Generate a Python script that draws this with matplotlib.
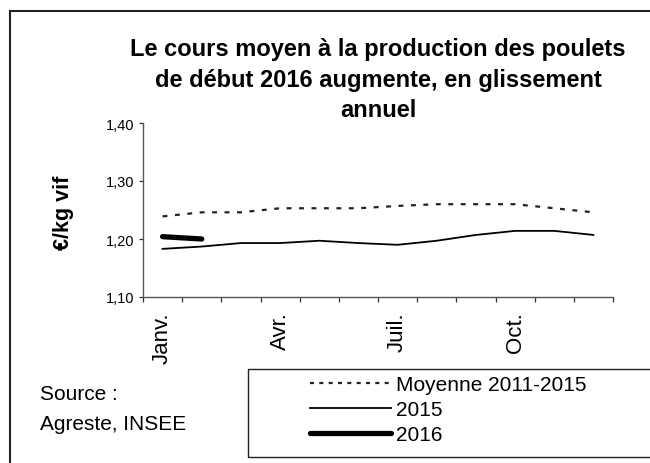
import matplotlib
matplotlib.use("Agg")
import matplotlib.pyplot as plt
from matplotlib.lines import Line2D
from matplotlib.patches import Rectangle

plt.rcParams['font.family'] = ['Liberation Sans', 'DejaVu Sans']

months = ["Janv.", "Févr.", "Mars", "Avr.", "Mai", "Juin",
          "Juil.", "Août", "Sept.", "Oct.", "Nov.", "Déc."]
shown_labels = ["Janv.", "Avr.", "Juil.", "Oct."]
moyenne = [1.239, 1.246, 1.246, 1.253, 1.253, 1.253,
           1.257, 1.260, 1.260, 1.260, 1.253, 1.246]
v2015 = [1.183, 1.187, 1.193, 1.193, 1.197, 1.193,
         1.190, 1.197, 1.207, 1.214, 1.214, 1.207]
v2016 = [1.204, 1.200]
yticks = [1.10, 1.20, 1.30, 1.40]
ytick_labels = ["1,10", "1,20", "1,30", "1,40"]

W, H = 650, 464
fig = plt.figure(figsize=(W / 100, H / 100), dpi=100)
fig.patch.set_facecolor("white")

# axes area in pixels: left 143, right 613, top 124, bottom 298
ax = fig.add_axes([143 / W, 1 - 298 / H, (613 - 143) / W, (298 - 124) / H])

x = list(range(len(months)))
l_moy, = ax.plot(x, moyenne, color="#222222", lw=1.6, linestyle=(0, (2.2, 3.4)),
                 dash_capstyle="butt")
l15, = ax.plot(x, v2015, color="black", lw=1.3)
l16, = ax.plot(x[:len(v2016)], v2016, color="black", lw=3.8, solid_capstyle="round")

ax.set_xlim(-0.5, len(months) - 0.5)
ax.set_ylim(1.10, 1.40)
ax.set_yticks(yticks)
ax.set_yticklabels(ytick_labels, fontsize=10.5)

pos = [months.index(m) for m in shown_labels]
ax.set_xticks(pos)
ax.set_xticklabels(shown_labels, rotation=90, fontsize=16)
ax.set_xticks([i - 0.5 for i in range(len(months) + 1)], minor=True)
ax.tick_params(axis="x", which="major", length=0, pad=10.5)
ax.tick_params(axis="x", which="minor", length=3.6, width=0.9, color="#333333")
ax.tick_params(axis="y", length=3, width=0.9, color="#333333", pad=3)

for s in ["top", "right"]:
    ax.spines[s].set_visible(False)
for s in ["left", "bottom"]:
    ax.spines[s].set_color("#555555")
    ax.spines[s].set_linewidth(1.0)

# title
fig.text(378 / W, 1 - 80 / H,
         "Le cours moyen à la production des poulets\nde début 2016 augmente, en glissement\nannuel",
         ha="center", va="center", fontsize=17, fontweight="bold", linespacing=1.4)

# y label
fig.text(64 / W, 1 - 213 / H, "€/kg vif", rotation=90, ha="center", va="center",
         fontsize=15.5, fontweight="bold")

# source
fig.text(40 / W, 1 - 395 / H, "Source :", ha="left", va="center", fontsize=15)
fig.text(40 / W, 1 - 425 / H, "Agreste, INSEE", ha="left", va="center", fontsize=15)

# outer frame (clipped at right and bottom)
fig.patches.append(Rectangle((10 / W, -0.2), 1.5, (H - 12) / H + 0.2,
                             transform=fig.transFigure, fill=False,
                             edgecolor="#222222", lw=1.5))
# legend frame
fig.patches.append(Rectangle((248 / W, 1 - 458 / H), 1.0, (458 - 370) / H,
                             transform=fig.transFigure, fill=False,
                             edgecolor="#222222", lw=1.0))

h_moy = Line2D([], [], color="#222222", lw=1.6, linestyle=(0, (1.8, 2.4)))
h15 = Line2D([], [], color="black", lw=1.3)
h16 = Line2D([], [], color="black", lw=3.8, solid_capstyle="round")
fig.legend([h_moy, h15, h16], ["Moyenne 2011-2015", "2015", "2016"],
           loc="upper left", bbox_to_anchor=(310 / W, 1 - 376 / H),
           frameon=False, borderpad=0, borderaxespad=0, fontsize=15,
           handlelength=3.9, handletextpad=0.25, labelspacing=0.3)

fig.savefig("out.png", dpi=100, facecolor="white")
